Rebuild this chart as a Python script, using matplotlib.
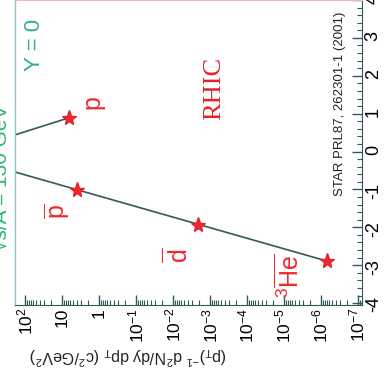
import numpy as np
import matplotlib
matplotlib.use('Agg')
import matplotlib.pyplot as plt
from matplotlib.ticker import LogLocator, MultipleLocator, FixedLocator, FuncFormatter, NullFormatter

# values read from the (rotated) picture: yield on the horizontal log axis, rapidity on the vertical one
particles = ['p', 'pbar', 'dbar', 'he3bar']
labels = [r'p', r'$\overline{p}$', r'$\overline{d}$', r'$^3\overline{He}$']
yields = [6.5, 3.9, 2.1e-3, 6.9e-7]
rapidity = [0.89, -1.01, -1.94, -2.89]

# hand drawn lines
line_p_yield = [186.0, 6.5]
line_p_rap = [0.44, 0.89]
line_anti_yield = [186.0, 6.9e-7]
line_anti_rap = [-0.54, -2.89]

rap_ticks = [-4, -3, -2, -1, 0, 1, 2, 3, 4]
yield_ticks = [1e2, 1e1, 1e0, 1e-1, 1e-2, 1e-3, 1e-4, 1e-5, 1e-6, 1e-7]

plt.rcParams['font.family'] = ['Liberation Sans', 'DejaVu Sans']
plt.rcParams['mathtext.fontset'] = 'custom'
plt.rcParams['mathtext.rm'] = 'Liberation Sans'
plt.rcParams['mathtext.it'] = 'Liberation Sans:italic'
plt.rcParams['mathtext.default'] = 'regular'
plt.rcParams['axes.unicode_minus'] = False

W, H = 389, 376
fig = plt.figure(figsize=(W / 100, H / 100), dpi=100)
ax = fig.add_axes([15 / W, 71 / H, 347 / W, 305 / H])

axc = '#2f5a5c'
ax.plot(line_p_yield, line_p_rap, color=axc, lw=1.2)
ax.plot(line_anti_yield, line_anti_rap, color=axc, lw=1.2)
ax.plot(yields, rapidity, ls='none', marker='*', ms=11, color='#f0282e', mec='#e8202a')

# handwritten particle names
offsets = [(24, 16), (-20, -21), (-20, -30), (-38, -15)]
for lab, yv, rv, off in zip(labels, yields, rapidity, offsets):
    ax.annotate(lab, (yv, rv), xytext=off, textcoords='offset pixels',
                ha='center', va='center', rotation=90, fontsize=18,
                color='#f0282e')

ax.set_xscale('log')
ax.set_xlim(10 ** 2.27, 10 ** -7.11)
ax.set_ylim(-4.05, 4.0)


def fmt(v, pos):
    e = int(round(np.log10(v)))
    if e == 0:
        return '1'
    if e == 1:
        return '10'
    return '10$^{%d}$' % e


ax.xaxis.set_major_locator(FixedLocator(yield_ticks))
ax.xaxis.set_major_formatter(FuncFormatter(fmt))
ax.xaxis.set_minor_locator(LogLocator(base=10, subs=np.arange(2, 10), numticks=30))
ax.xaxis.set_minor_formatter(NullFormatter())
ax.yaxis.set_major_locator(FixedLocator(rap_ticks))
ax.yaxis.set_minor_locator(MultipleLocator(0.2))
ax.yaxis.tick_right()

ax.tick_params(axis='x', which='major', direction='in', length=7, width=1.0,
               color=axc, labelsize=12.5, labelrotation=90, pad=2, top=False)
ax.tick_params(axis='x', which='minor', direction='in', length=3.5, width=0.8,
               color=axc, top=False)
ax.tick_params(axis='y', which='major', direction='in', length=7, width=1.0,
               color=axc, labelsize=13, labelrotation=90, pad=2, left=False)
ax.tick_params(axis='y', which='minor', direction='in', length=3.5, width=0.8,
               color=axc, left=False)

ax.spines['bottom'].set_color(axc)
ax.spines['right'].set_color(axc)
ax.spines['left'].set_color('#8cc4c8')
ax.spines['top'].set_color('#f2b8c0')
ax.spines['left'].set_linewidth(1.0)
ax.spines['top'].set_linewidth(1.5)

# axis title of the log axis (upside down)
fig.text(128 / W, 1 - 356 / H, r'(p$_T$)$^{-1}$ d$^2$N/dy dp$_T$ (c$^2$/GeV$^2$)',
         rotation=180, ha='center', va='center', fontsize=11.5, color='#222222')

fig.text(340 / W, 1 - 104 / H, 'STAR PRL87, 262301-1 (2001)', rotation=90,
         ha='center', va='center', fontsize=9.5, color='#222222')
fig.text(214 / W, 1 - 88 / H, 'RHIC', rotation=90, ha='center', va='center',
         fontsize=19, color='#e8202a', family='Liberation Serif')

green = '#2fb37a'
fig.text(35 / W, 1 - 45 / H, 'Y = 0', rotation=90, ha='center', va='center',
         fontsize=16, color=green)
fig.text(1 / W, 1 - 178 / H, '\u221as/A = 130 GeV', rotation=90, ha='center',
         va='center', fontsize=15, color=green)

fig.savefig('out.png', dpi=100)
